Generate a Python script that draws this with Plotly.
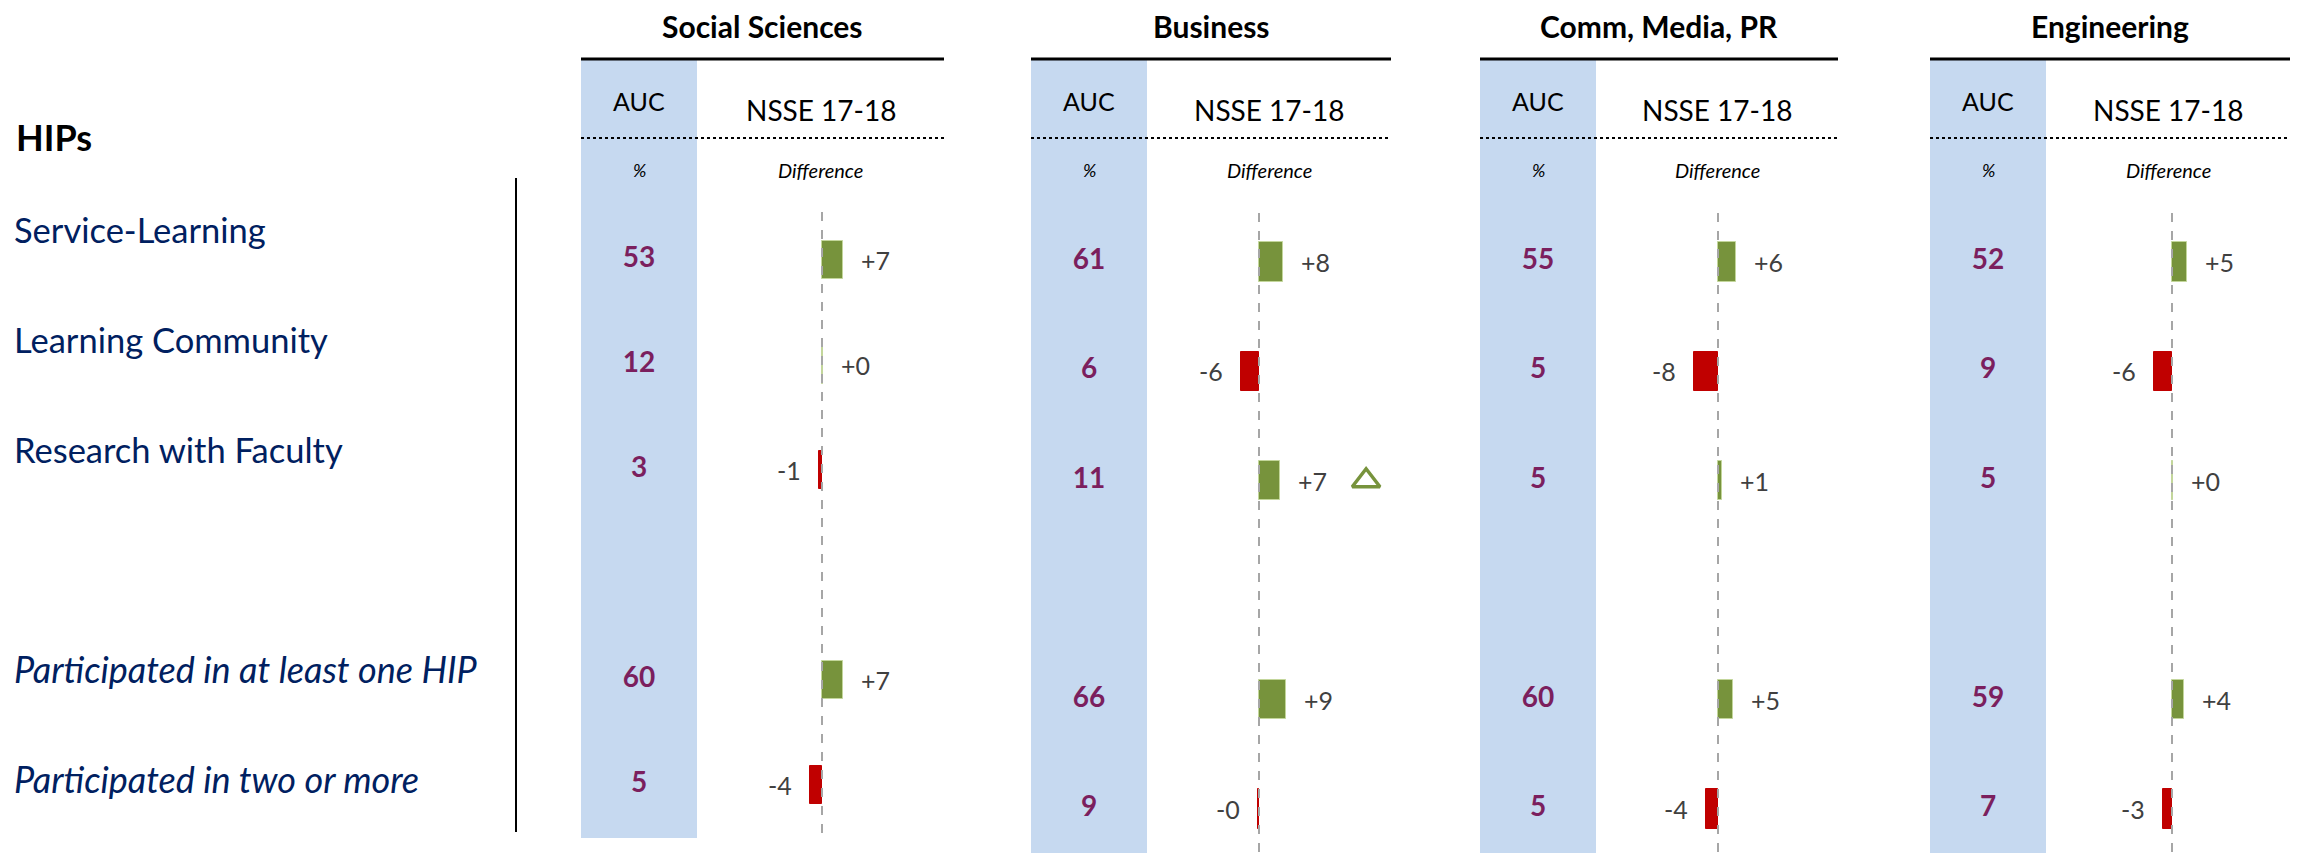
import plotly.graph_objects as go

# ---------------- data ----------------
majors = ["Social Sciences", "Business", "Comm, Media, PR", "Engineering"]
hips = ["Service-Learning", "Learning Community", "Research with Faculty",
        "Participated in at least one HIP", "Participated in two or more"]
italic_rows = [False, False, False, True, True]

auc_social = [53, 12, 3, 60, 5]
auc_business = [61, 6, 11, 66, 9]
auc_comm = [55, 5, 5, 60, 5]
auc_eng = [52, 9, 5, 59, 7]

diff_social = [7, 0.2, -1, 7, -4]
diff_business = [8, -6, 7, 9, -0.2]
diff_comm = [6, -8, 1.4, 5, -4]
diff_eng = [5, -6, 0.2, 4, -3]

sig_social = [False, False, False, False, False]
sig_business = [False, False, True, False, False]
sig_comm = [False, False, False, False, False]
sig_eng = [False, False, False, False, False]

header_auc = "AUC"
header_nsse = "NSSE 17-18"
sub_auc = "%"
sub_diff = "Difference"
section_title = "HIPs"

auc_all = [auc_social, auc_business, auc_comm, auc_eng]
diff_all = [diff_social, diff_business, diff_comm, diff_eng]
sig_all = [sig_social, sig_business, sig_comm, sig_eng]

# ---------------- layout constants ----------------
VW, VH = 2306, 861          # browser viewport
OFF = 8                     # default page body margin
FW, FH = VW - 2 * OFF, VH - 2 * OFF
GAP = " "                   # empty slot between individual HIPs and summary rows
rows = hips[:3] + [GAP] + hips[3:]

panel_left = [581, 1031, 1480, 1930]
panel_right = [944, 1391, 1838, 2290]
auc_w = 116
zero_px = [822, 1259, 1718, 2172]
px_per_unit = 3.0
slot_first = [260, 262, 262, 262]
slot_step = [105, 109.4, 109.4, 109.4]
blue_bottom = [838, 870, 870, 870]
dash_bottom = [833, 870, 870, 870]
plot_top = 207
plot_bottom = OFF + FH
SIG_X = 35.7

GREEN = "#77933C"
GREEN_EDGE = "#C3D69B"
RED = "#C00000"
BLUE = "#C6D9F0"
PURPLE = "#7B1F5E"
NAVY = "#002060"
GREY_TXT = "#404040"

cal_font = "Lato, 'Open Sans', sans-serif"


def fx(p):
    return (p - OFF) / FW


def fy(p):
    return 1 - (p - OFF) / FH


fig = go.Figure()
layout = dict(
    width=FW, height=FH, margin=dict(l=0, r=0, t=0, b=0),
    paper_bgcolor="white", plot_bgcolor="rgba(0,0,0,0)",
    showlegend=False, bargap=0, font=dict(family=cal_font),
)
shapes = []
annotations = []


def ann(text, xp, yp, size, color="black", xanchor="center"):
    return dict(text=text, x=fx(xp), y=fy(yp), xref="paper", yref="paper",
                xanchor=xanchor, yanchor="middle", showarrow=False,
                borderpad=0,
                font=dict(size=size, color=color, family=cal_font))


for k in range(4):
    xd = f"x{2 * k + 1}"
    xa = f"x{2 * k + 2}"
    yy = f"y{k + 1}"
    L, R, Z = panel_left[k], panel_right[k], zero_px[k]
    auc_r = L + auc_w
    layout[f"xaxis{2 * k + 1}"] = dict(
        domain=[fx(auc_r), fx(R)],
        range=[(auc_r - Z) / px_per_unit, (R - Z) / px_per_unit],
        visible=False, anchor=yy, fixedrange=True)
    layout[f"xaxis{2 * k + 2}"] = dict(
        domain=[fx(L), fx(auc_r)], range=[0, 1],
        visible=False, anchor=yy, fixedrange=True)
    top_idx = (plot_top - slot_first[k]) / slot_step[k]
    bot_idx = (plot_bottom - slot_first[k]) / slot_step[k]
    layout[f"yaxis{k + 1}"] = dict(
        domain=[0, fy(plot_top)], type="category", categoryorder="array",
        categoryarray=rows, range=[bot_idx, top_idx], visible=False,
        anchor=xd, fixedrange=True)

    # blue AUC column
    shapes.append(dict(type="rect", xref="paper", yref="paper",
                       x0=fx(L), x1=fx(auc_r), y0=fy(blue_bottom[k]), y1=fy(59),
                       fillcolor=BLUE, line=dict(width=0), layer="below"))
    # header lines
    shapes.append(dict(type="line", xref="paper", yref="paper",
                       x0=fx(L), x1=fx(R), y0=fy(59), y1=fy(59),
                       line=dict(color="black", width=3)))
    shapes.append(dict(type="line", xref="paper", yref="paper",
                       x0=fx(L), x1=fx(R), y0=fy(138), y1=fy(138),
                       line=dict(color="black", width=2, dash="dot")))
    # zero reference line
    shapes.append(dict(type="line", xref=xd, yref="paper",
                       x0=0, x1=0, y0=fy(dash_bottom[k]), y1=fy(plot_top),
                       line=dict(color="#A6A6A6", width=2, dash="dash"),
                       layer="above"))

    cx_auc = L + auc_w / 2
    cx_diff = (auc_r + R) / 2
    annotations += [
        ann(f"<b>{majors[k]}</b>", (L + R) / 2, 26, 30),
        ann(header_auc, cx_auc, 101, 25),
        ann(header_nsse, cx_diff, 110, 28),
        ann(f"<i>{sub_auc}</i>", cx_auc, 170, 18),
        ann(f"<i>{sub_diff}</i>", cx_diff, 170, 20),
    ]

    d = diff_all[k]
    fig.add_trace(go.Bar(
        x=d, y=hips, orientation="h", xaxis=xd, yaxis=yy, width=0.36,
        marker=dict(color=[GREEN if v >= 0 else RED for v in d],
                    line=dict(color=[GREEN_EDGE if v >= 0 else RED for v in d],
                              width=1)),
        hoverinfo="skip"))
    fig.add_trace(go.Scatter(
        x=[0.5] * len(hips), y=hips, mode="text", xaxis=xa, yaxis=yy,
        text=[f"<b>{v}</b>" for v in auc_all[k]], textposition="middle center",
        textfont=dict(size=28, color=PURPLE, family=cal_font),
        hoverinfo="skip"))
    for v, h in zip(d, hips):
        annotations.append(dict(
            text=format(v, "+.0f"), x=v, y=h, xref=xd, yref=yy, showarrow=False,
            xanchor="left" if v >= 0 else "right", yanchor="middle",
            xshift=16 if v >= 0 else -16,
            font=dict(size=25, color=GREY_TXT, family=cal_font)))
    sig_rows = [h for h, s in zip(hips, sig_all[k]) if s]
    if sig_rows:
        fig.add_trace(go.Scatter(
            x=[SIG_X] * len(sig_rows), y=sig_rows, mode="markers",
            xaxis=xd, yaxis=yy, cliponaxis=False,
            marker=dict(symbol="triangle-up-open", size=24,
                        line=dict(width=3.5, color=GREEN), color=GREEN),
            hoverinfo="skip"))

# row label axis
lab_first, lab_step = 234, 110
layout["xaxis9"] = dict(domain=[fx(14), fx(505)], range=[0, 1], visible=False,
                        anchor="y5", fixedrange=True)
layout["yaxis5"] = dict(domain=[fy(lab_first + 5.5 * lab_step),
                                fy(lab_first - 0.5 * lab_step)],
                        type="category", categoryorder="array",
                        categoryarray=rows, range=[5.5, -0.5], visible=False,
                        anchor="x9", fixedrange=True)
reg = [h for h, it in zip(hips, italic_rows) if not it]
ita = [h for h, it in zip(hips, italic_rows) if it]
fig.add_trace(go.Scatter(
    x=[0] * len(reg), y=reg, mode="text", xaxis="x9", yaxis="y5",
    text=reg, textposition="middle right", cliponaxis=False,
    textfont=dict(size=34.5, color=NAVY, family=cal_font), hoverinfo="skip"))
fig.add_trace(go.Scatter(
    x=[0] * len(ita), y=ita, mode="text", xaxis="x9", yaxis="y5",
    text=[f"<i>{h}</i>" for h in ita], textposition="middle right",
    cliponaxis=False,
    textfont=dict(size=36, color=NAVY, family=cal_font), hoverinfo="skip"))

annotations.append(ann(f"<b>{section_title}</b>", 15, 137, 36, xanchor="left"))
shapes.append(dict(type="line", xref="paper", yref="paper", x0=fx(516),
                   x1=fx(516), y0=fy(832), y1=fy(178),
                   line=dict(color="black", width=2)))

layout["shapes"] = shapes
layout["annotations"] = annotations
fig.update_layout(**layout)
fig.write_html("out.html")
